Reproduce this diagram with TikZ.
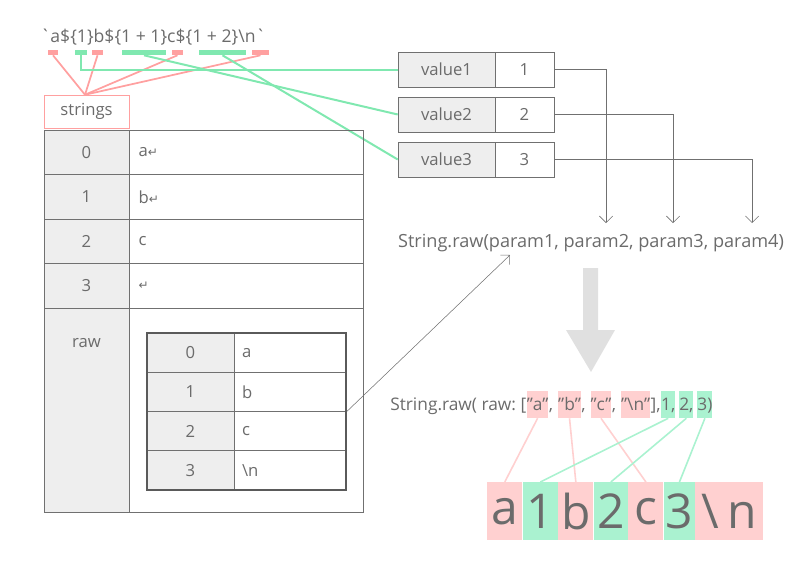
\documentclass[tikz,border=0pt]{standalone}
\usepackage{fontspec}
\setmainfont{Open Sans}
\newfontfamily\symfont{DejaVu Sans}
\usetikzlibrary{arrows.meta, positioning, calc}
\definecolor{txt}{HTML}{6B6B6B}
\definecolor{edge}{HTML}{707070}
\definecolor{cellgray}{HTML}{EEEEEE}
\definecolor{redfill}{HTML}{FFD0D0}
\definecolor{redmark}{HTML}{FFA0A0}
\definecolor{greenfill}{HTML}{AAF2D0}
\definecolor{greenmark}{HTML}{80E8B0}
\newcommand{\ret}{{\symfont\fontsize{9}{9}\selectfont\char"21B5}}
\newcommand{\dq}{\char"22\relax}

\begin{document}
\begin{tikzpicture}[
        x=0.75pt, y=-0.75pt,
        every node/.style={text=txt, font=\fontsize{12.5}{14}\selectfont},
        cell/.style={draw=edge, minimum height=33.4pt, inner sep=0pt},
        idx/.style={cell, fill=cellgray, minimum width=63.75pt},
        str/.style={cell, minimum width=175.5pt, text width=161pt, align=left},
        icell/.style={draw=edge, minimum height=29.45pt, inner sep=0pt},
        mkred/.style={fill=redmark, minimum width=#1, minimum height=3.8pt, inner sep=0pt},
        mkgreen/.style={fill=greenmark, minimum width=#1, minimum height=3.8pt, inner sep=0pt},
        redline/.style={redmark, line width=1.3pt},
        greenline/.style={greenmark, line width=1.5pt},
        piece/.style={inner xsep=0pt, inner ysep=1pt, text height=13pt, text depth=5pt, font=\fontsize{13}{15}\selectfont},
        big/.style={minimum height=43.5pt, minimum width=#1, inner sep=0pt, font=\fontsize{36}{36}\selectfont},
        pile/.style={edge, ->, >={Straight Barb[length=5pt, width=10pt]}}
    ]
    \useasboundingbox (0,0) rectangle (804,572);

    % template string and its markers
    \node[anchor=base west, inner sep=0pt, font=\fontsize{13.2}{15}\selectfont] (tpl) at (40,42) {\textasciigrave a\$\{1\}b\$\{1 + 1\}c\$\{1 + 2\}\textbackslash n\textasciigrave};
    \node[mkred=7.5pt] (m1) at (53,52.5) {};
    \node[mkgreen=9pt] (m2) at (81,52.5) {};
    \node[mkred=8.25pt] (m3) at (97.5,52.5) {};
    \node[mkgreen=33pt] (m4) at (144,52.5) {};
    \node[mkred=8.25pt] (m5) at (177.5,52.5) {};
    \node[mkgreen=35.25pt] (m6) at (222.5,52.5) {};
    \node[mkred=12.75pt] (m7) at (260.5,52.5) {};

    \node[draw=redmark, minimum width=63.75pt, minimum height=24.75pt] (strings) at (86.5,111.5) {strings};
    \foreach \m in {m1, m3, m5, m7}
        \draw[redline] (\m.south) -- ($(strings.north)+(-1.5,0)$);

    % values
    \foreach \i/\y in {1/69.5, 2/114.5, 3/159.5} {
        \node[cell, fill=cellgray, minimum width=72.75pt, minimum height=26.25pt] (vlab\i) at (446.5,\y) {value\i};
        \node[cell, minimum width=44.25pt, minimum height=26.25pt] (vval\i) at (524.5,\y) {\i};
    }
    \draw[greenline] (m2.south) |- (vlab1.west);
    \draw[greenline] (m4.south) -- (vlab2.west);
    \draw[greenline] (m6.south) -- (vlab3.west);

    % String.raw call
    \node[anchor=base, inner sep=0pt, font=\fontsize{13.6}{15}\selectfont] (call) at (591,247) {String.raw(param1, param2, param3, param4)};
    \coordinate (p1) at (606,223);
    \coordinate (p2) at (673,223);
    \coordinate (p3) at (752,223);
    \foreach \i in {1,2,3}
        \draw[pile] (vval\i.east) -| (p\i);

    % strings table
    \foreach \i/\s in {0/a\ret, 1/b\ret, 2/c, 3/\ret} {
        \node[idx] (idx\i) at (86.5,152.25+44.5*\i) {\i};
        \node[str] (str\i) at (246,152.25+44.5*\i) {\s};
    }
    \node[idx, minimum height=153pt, anchor=north] (idxraw) at (86.5,308) {};
    \node[anchor=base] at (86.5,347) {raw};
    \node[str, minimum height=153pt, anchor=north] (strraw) at (246,308) {};

    % raw table
    \foreach \i/\s [count=\k from 0] in {0/a, 1/b, 2/c, 3/\textbackslash n} {
        \node[icell, fill=cellgray, minimum width=65.25pt] (ridx\i) at (190.5,352.6+39.25*\k) {\i};
        \node[icell, minimum width=84pt, text width=72pt, align=left] (rstr\i) at (290,352.6+39.25*\k) {\s};
    }
    \node[draw=edge!80!black, line width=1.2pt, minimum width=149.25pt, minimum height=117.75pt, inner sep=0pt] (rawtab) at (246.5,411.5) {};
    \coordinate (callin) at (510,255);
    \draw[pile, thin] (rawtab.east) -- (callin);

    % big arrow
    \fill[black!12] (583,268) -- (598,268) -- (598,330) -- (615,330) -- (591,372) -- (566,330) -- (583,330) -- cycle;

    % expanded call
    \node[piece, anchor=base west] (c0) at (390,410) {String.raw(\ raw:\ [};
    \node[piece, fill=redfill, base right=0pt of c0] (ca) {\dq a\dq};
    \node[piece, base right=0pt of ca] (c1) {,\ \ };
    \node[piece, fill=redfill, base right=0pt of c1] (cb) {\dq b\dq};
    \node[piece, base right=0pt of cb] (c2) {,\ \ };
    \node[piece, fill=redfill, base right=0pt of c2] (cc) {\dq c\dq};
    \node[piece, base right=0pt of cc] (c3) {,\ \ };
    \node[piece, fill=redfill, base right=0pt of c3] (cn) {\dq\textbackslash n\dq};
    \node[piece, base right=0pt of cn] (c4) {],\ };
    \node[piece, fill=greenfill, base right=0pt of c4] (v1) {1,};
    \node[piece, base right=0pt of v1] (c5) {\,};
    \node[piece, fill=greenfill, base right=0pt of c5] (v2) {2,};
    \node[piece, base right=0pt of v2] (c6) {\,};
    \node[piece, fill=greenfill, base right=0pt of c6] (v3) {3)};

    % result
    \node[big=26.25pt, fill=redfill, anchor=north west] (ra) at (487,482) {a};
    \node[big=26.25pt, fill=greenfill, right=0pt of ra] (r1) {1};
    \node[big=26.25pt, fill=redfill, right=0pt of r1] (rb) {b};
    \node[big=25.5pt, fill=greenfill, right=0pt of rb] (r2) {2};
    \node[big=26.25pt, fill=redfill, right=0pt of r2] (rc) {c};
    \node[big=23.25pt, fill=greenfill, right=0pt of rc] (r3) {3};
    \node[big=51pt, fill=redfill, right=0pt of r3] (rn) {\textbackslash\,n};

    \draw[redfill, line width=1.2pt] (ca.south) -- (ra.north);
    \draw[redfill, line width=1.2pt] (cb.south) -- (rb.north);
    \draw[redfill, line width=1.2pt] (cc.south) -- (rc.north);
    \draw[greenfill, line width=1.2pt] (v1.south) -- (r1.north);
    \draw[greenfill, line width=1.2pt] (v2.south) -- (r2.north);
    \draw[greenfill, line width=1.2pt] (v3.south) -- (r3.north);
\end{tikzpicture}
\end{document}
